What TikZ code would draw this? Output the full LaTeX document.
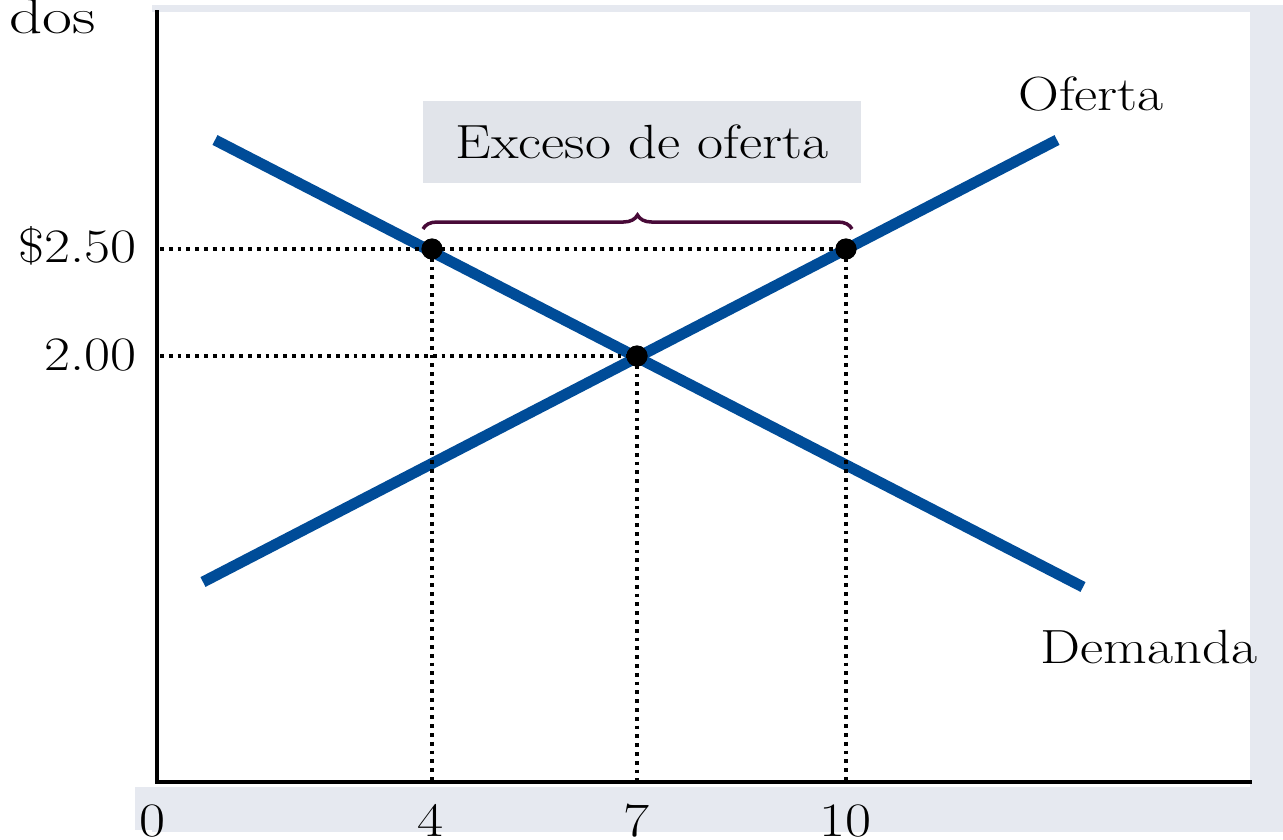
\documentclass[tikz,border=0pt]{standalone}
\usepackage{fontspec}
\setmainfont{Latin Modern Roman}[FakeStretch=1.18]
\newfontfamily\widefont{Latin Modern Roman}[FakeStretch=1.3]
\usetikzlibrary{decorations.pathreplacing}
\definecolor{curveblue}{RGB}{0,76,152}
\definecolor{panelgray}{RGB}{230,233,240}
\definecolor{boxgray}{RGB}{225,228,234}
\definecolor{bracecol}{RGB}{72,10,56}
\tikzset{
  lbl/.style={inner sep=0pt, font=\fontsize{48}{52}\selectfont},
  curve/.style={line width=11pt, curveblue},
  guide/.style={line width=3.6pt, dash pattern=on 3.8pt off 5pt},
  dotpt/.style={circle, fill=black, inner sep=0pt, minimum size=21pt},
  axis/.style={line width=4pt, line cap=rect}
}
\begin{document}
\begin{tikzpicture}[x=1pt,y=-1pt]
\useasboundingbox (0,0) rectangle (1283,839);
\fill[panelgray] (152,5) rectangle (1283,832);
\fill[panelgray] (135,787) rectangle (1283,830);
\fill[white] (152,12) rectangle (1250,787);
% box
\node[fill=boxgray, minimum width=438pt, minimum height=82pt, inner sep=0pt] (box) at (642,142) {};
\node[lbl] (boxtxt) at (box.center) {Exceso de oferta};
% curves
\coordinate (d1) at (215,140); \coordinate (d2) at (1083,587);
\coordinate (s1) at (203,582); \coordinate (s2) at (1057,140);
\draw[curve] (d1) -- (d2);
\draw[curve] (s1) -- (s2);
% points
\coordinate (yax0) at (157,782);
\coordinate (ytop) at (157,12);
\coordinate (xend) at (1250,782);
\coordinate (y250) at (160,249);
\coordinate (y200) at (160,356);
\coordinate (x4) at (432,782);
\coordinate (x7) at (637,782);
\coordinate (x10) at (846,782);
\node[dotpt] (pa) at (432,249) {};
\node[dotpt] (pb) at (846,249) {};
\node[dotpt] (pe) at (637,356) {};
\draw[guide] (y250) -- (pb.center);
\draw[guide] (y200) -- (pe.center);
\draw[guide] (pa.center) -- (x4);
\draw[guide] (pe.center) -- (x7);
\draw[guide] (pb.center) -- (x10);
\node[dotpt] at (pa.center) {};
\node[dotpt] at (pb.center) {};
\node[dotpt] at (pe.center) {};
% brace
\coordinate (br1) at (423,229); \coordinate (br2) at (852,229);
\draw[bracecol, line width=3.5pt, decorate, decoration={brace, amplitude=14pt}] (br1) -- (br2);
% axes
\draw[axis] (ytop) -- (yax0) -- (xend);
% labels
\node[lbl, anchor=base] (of) at (1091,110) {Oferta};
\node[lbl, anchor=base] (de) at (1149,663) {Demanda};
\node[lbl, anchor=base east] (p250) at (137,262) {\$2.50};
\node[lbl, anchor=base east] (p200) at (137,370) {2.00};
\node[lbl, anchor=base] (q0) at (152,836) {0};
\node[lbl, anchor=base] (q4) at (430,836) {4};
\node[lbl, anchor=base] (q7) at (636,836) {7};
\node[lbl, anchor=base] (q10) at (845,836) {10};
\node[lbl, anchor=base east, font=\widefont\fontsize{50}{54}\selectfont] (dos) at (96,33) {dos};
\end{tikzpicture}
\end{document}
